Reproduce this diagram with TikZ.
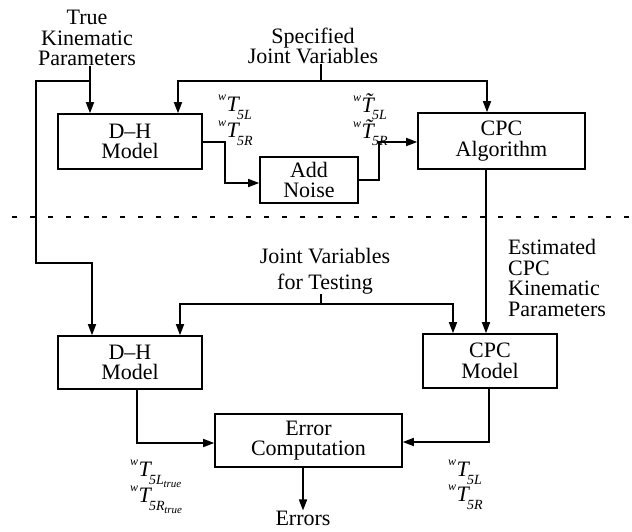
\documentclass[tikz,border=0pt]{standalone}
\usepackage{fontspec}
\setmainfont{Liberation Serif}
\usetikzlibrary{arrows.meta}
\newcommand\wTT[2]{\raisebox{0.5em}{\fontsize{12}{12}\selectfont\itshape w}\kern0.3pt{\itshape #1}\kern-1.5pt\raisebox{-0.35em}{\fontsize{14}{14}\selectfont\itshape #2}}
\newcommand\tT{\~{T}}
\newcommand\trueL[1]{5#1\kern-0.5pt\raisebox{-0.25em}{\fontsize{11}{11}\selectfont\itshape true}}
\tikzset{
  blk/.style={draw, line width=1.6pt, align=center, inner sep=0pt, font=\fontsize{22}{20.5}\selectfont},
  txt/.style={align=center, inner sep=0pt, font=\fontsize{22}{20.5}\selectfont},
  lab/.style={inner sep=0pt, anchor=west, font=\fontsize{22}{20}\selectfont},
  arr/.style={line width=1.6pt, -{Triangle[length=11pt,width=8pt]}},
  ln/.style={line width=1.6pt},
  sep/.style={line width=1.5pt, dash pattern=on 5pt off 13pt}
}
\begin{document}
\begin{tikzpicture}[x=1pt,y=-1pt]
\useasboundingbox (0,0) rectangle (632,531);
% boxes
\node[blk, minimum width=144pt, minimum height=55pt] (dh1) at (130,141.5) {D–H\\Model};
\node[blk, minimum width=98pt, minimum height=46pt] (noise) at (309,180) {Add\\Noise};
\node[blk, minimum width=167pt, minimum height=56pt] (alg) at (501.5,141) {CPC\\Algorithm};
\node[blk, minimum width=144pt, minimum height=53pt] (dh2) at (130,362.5) {D–H\\Model};
\node[blk, minimum width=134pt, minimum height=54pt] (cpcm) at (490,361) {CPC\\Model};
\node[blk, minimum width=187pt, minimum height=53pt] (err) at (308.5,440.5) {Error\\Computation};
% texts
\node[txt] (truek) at (87,38) {True\\Kinematic\\Parameters};
\node[txt] (spec) at (313,46) {Specified\\Joint Variables};
\node[txt, font=\fontsize{22}{26}\selectfont] (test) at (325,271) {Joint Variables\\for Testing};
\node[txt, align=left, anchor=west] (est) at (508,278) {Estimated\\CPC\\Kinematic\\Parameters};
\node[txt] (errs) at (303,518) {Errors};
% labels
\node[lab] (a1) at (218,107) {\wTT{T}{5L}};
\node[lab] (a2) at (218,133) {\wTT{T}{5R}};
\node[lab] (b1) at (353,107) {\wTT{\tT}{5L}};
\node[lab] (b2) at (353,133) {\wTT{\tT}{5R}};
\node[lab] (c1) at (130,474) {\wTT{T}{\trueL{L}}};
\node[lab] (c2) at (130,500) {\wTT{T}{\trueL{R}}};
\node[lab] (d1) at (448,472) {\wTT{T}{5L}};
\node[lab] (d2) at (448,497) {\wTT{T}{5R}};
% separator
\coordinate (s1) at (12,217);
\coordinate (s2) at (632,217);
\draw[sep] (s1) -- (s2);
% junction coordinates
\coordinate (k1) at (90,81);
\coordinate (k2) at (36,81);
\coordinate (k3) at (36,263);
\coordinate (k4) at (92,263);
\coordinate (j0) at (321,81);
\coordinate (j1) at (178,81);
\coordinate (j2) at (487,81);
\coordinate (n1) at (225,142);
\coordinate (n2) at (225,183);
\coordinate (n3) at (379,180);
\coordinate (n4) at (379,142);
\coordinate (v1) at (486,169);
\coordinate (t0) at (321,304);
\coordinate (t1) at (180,304);
\coordinate (t2) at (453,304);
\coordinate (e1) at (137,443);
\coordinate (e2) at (489,442);
% connectors
\draw[arr] (k1 |- truek.south) -- (k1 |- dh1.north);
\draw[arr] (k1) -- (k2) -- (k3) -- (k4) -- (k4 |- dh2.north);
\draw[ln] (j0 |- spec.south) -- (j0);
\draw[arr] (j2) -- (j1) -- (j1 |- dh1.north);
\draw[arr] (j0) -- (j2) -- (j2 |- alg.north);
\draw[arr] (dh1.east |- n1) -- (n1) -- (n2) -- (noise.west |- n2);
\draw[arr] (noise.east |- n3) -- (n3) -- (n4) -- (alg.west |- n4);
\draw[arr] (v1 |- alg.south) -- (v1 |- cpcm.north);
\draw[ln] (t0 |- test.south) -- (t0);
\draw[arr] (t0) -- (t1) -- (t1 |- dh2.north);
\draw[arr] (t0) -- (t2) -- (t2 |- cpcm.north);
\draw[arr] (e1 |- dh2.south) -- (e1) -- (err.west |- e1);
\draw[arr] (e2 |- cpcm.south) -- (e2) -- (err.east |- e2);
\draw[arr] (err.south -| errs) -- (errs.north);
\end{tikzpicture}
\end{document}
